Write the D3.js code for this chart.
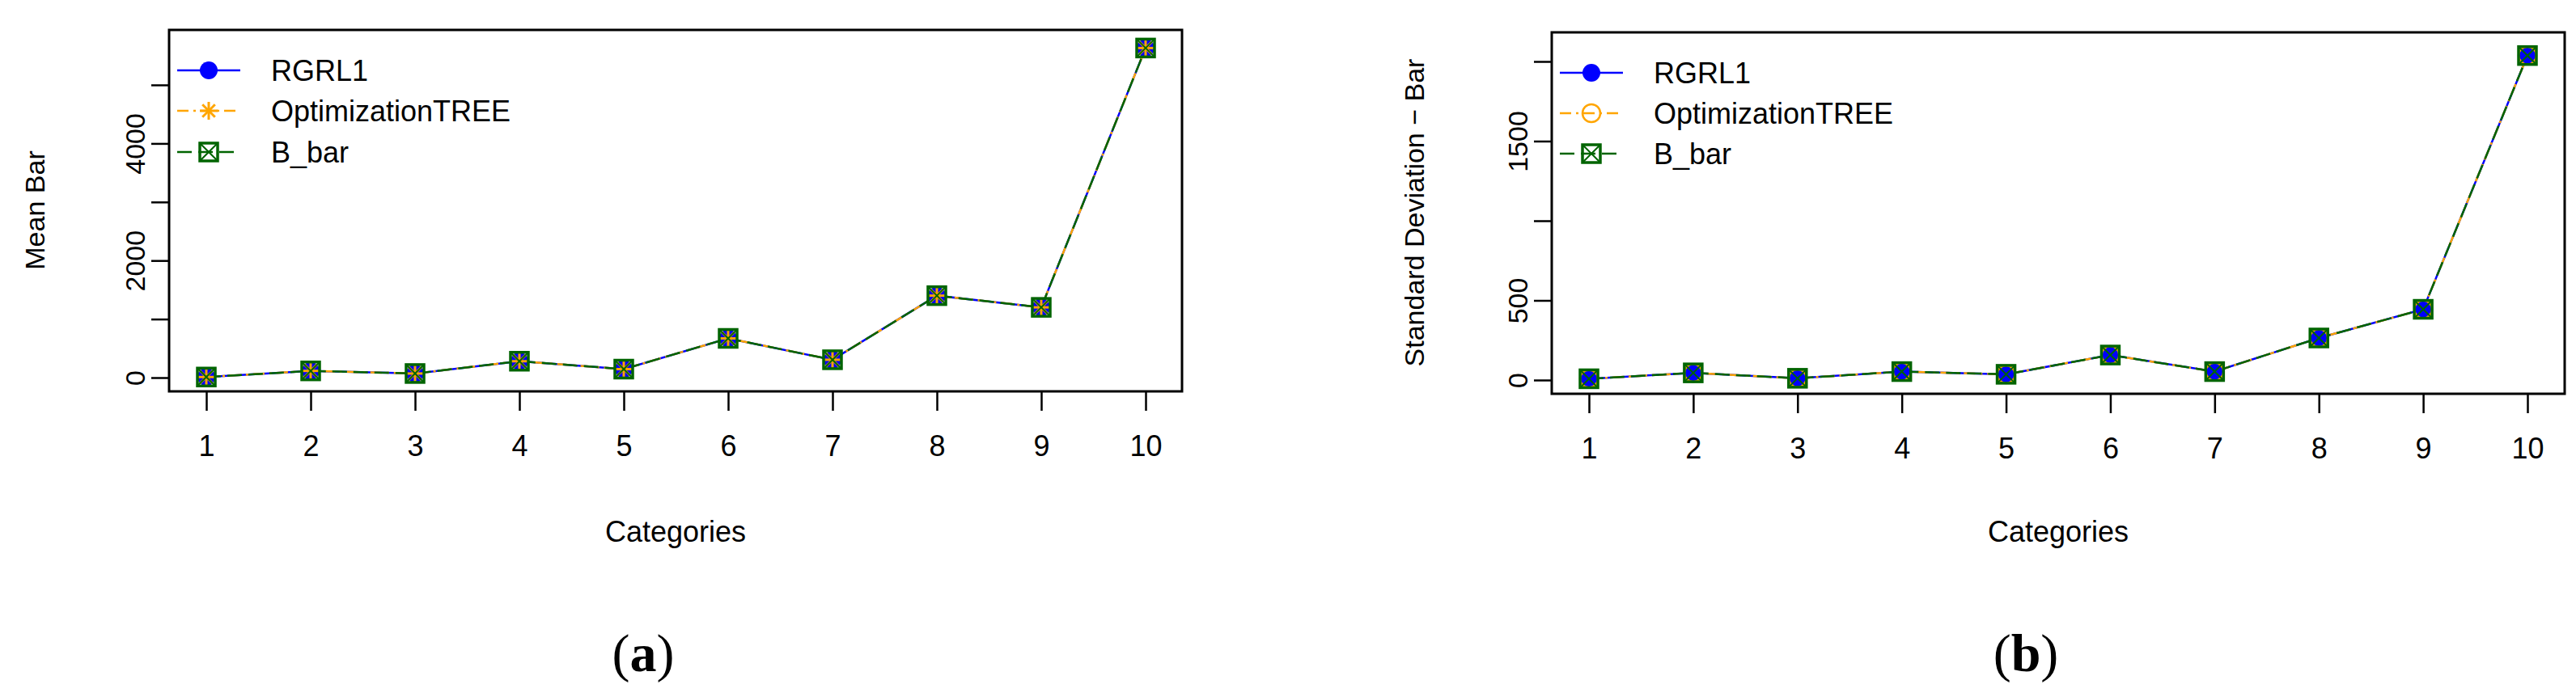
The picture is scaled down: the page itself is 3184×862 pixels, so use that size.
<!DOCTYPE html>
<html>
<head>
<meta charset="utf-8">
<script src="https://cdn.jsdelivr.net/npm/d3@7"></script>
<style>
body { margin: 0; background: #fff; }
text { font-family: "Liberation Sans", Arial, sans-serif; }
text.tag { font-family: "Liberation Serif", "DejaVu Serif", serif; }
</style>
</head>
<body>
<svg id="chart" width="3184" height="862"></svg>
<script>
// data
const categories = [1, 2, 3, 4, 5, 6, 7, 8, 9, 10];
const meanBar = [10, 115, 70, 280, 145, 670, 305, 1400, 1200, 5630];
const sdBar = [8, 45, 11, 53, 36, 157, 53, 264, 444, 2037];
const seriesNames = ["RGRL1", "OptimizationTREE", "B_bar"];
const seriesColors = ["#0000ff", "#ffa500", "#006400"];
const seriesDash = [null, "14,6,3,6", "18,8"];
const meanTicks = [0, 1000, 2000, 3000, 4000, 5000];
const meanLabels = [0, 2000, 4000];
const sdTicks = [0, 500, 1000, 1500, 2000];
const sdLabels = [0, 500, 1500];

const svg = d3.select("#chart");

function drawMarker(g, kind, color, x, y) {
    let r = 11;
    if (kind === 0) {
        g.append("circle").attr("cx", x).attr("cy", y).attr("r", r).attr("fill", color);
    } else if (kind === 1) {
        g.append("circle").attr("cx", x).attr("cy", y).attr("r", r)
            .attr("fill", "none").attr("stroke", color).attr("stroke-width", 2.5);
    } else if (kind === 2) {
        // asterisk-ish star
        for (let a = 0; a < 4; a++) {
            let ang = a * Math.PI / 4;
            g.append("line").attr("x1", x - r * Math.cos(ang)).attr("y1", y - r * Math.sin(ang))
                .attr("x2", x + r * Math.cos(ang)).attr("y2", y + r * Math.sin(ang))
                .attr("stroke", color).attr("stroke-width", 3);
        }
    } else {
        // square with X (R pch 7)
        g.append("rect").attr("x", x - r).attr("y", y - r).attr("width", 2 * r).attr("height", 2 * r)
            .attr("fill", "none").attr("stroke", color).attr("stroke-width", 3.5);
        g.append("path").attr("d", `M${x - r},${y - r}L${x + r},${y + r}M${x + r},${y - r}L${x - r},${y + r}`)
            .attr("stroke", color).attr("stroke-width", 2);
    }
}

function drawPanel(opt) {
    let g = svg.append("g");
    let x = d3.scaleLinear().domain([1, 10]).range([opt.x1, opt.x10]);
    let y = d3.scaleLinear().domain([0, opt.topVal]).range([opt.y0, opt.yTop]);

    // box
    g.append("rect").attr("x", opt.box[0]).attr("y", opt.box[1])
        .attr("width", opt.box[2] - opt.box[0]).attr("height", opt.box[3] - opt.box[1])
        .attr("fill", "none").attr("stroke", "#000").attr("stroke-width", 3);

    // x axis
    let xa = g.append("g").attr("transform", `translate(0,${opt.box[3]})`)
        .call(d3.axisBottom(x).tickValues(categories).tickSize(24).tickPadding(30).tickFormat(d3.format("d")));
    xa.select(".domain").remove();
    xa.selectAll("line").attr("stroke-width", 2.5);
    xa.selectAll("text").attr("font-size", 36).attr("fill", "#000");

    // y axis, labels rotated like R's default
    let ya = g.append("g").attr("transform", `translate(${opt.box[0]},0)`)
        .call(d3.axisLeft(y).tickValues(opt.ticks).tickSize(22).tickPadding(0)
            .tickFormat(d => opt.labels.includes(d) ? d : ""));
    ya.select(".domain").remove();
    ya.selectAll("line").attr("stroke-width", 2.5);
    ya.selectAll("text").attr("font-size", 34).attr("fill", "#000")
        .attr("text-anchor", "middle")
        .attr("transform", "translate(-42,0) rotate(-90)")
        .attr("x", 0).attr("y", 0).attr("dy", "0.35em");

    // lines and markers
    let line = d3.line().x((d, i) => x(categories[i])).y(d => y(d));
    seriesNames.forEach((name, s) => {
        g.append("path").datum(opt.values).attr("d", line).attr("fill", "none")
            .attr("stroke", seriesColors[s]).attr("stroke-width", 2.5)
            .attr("stroke-dasharray", seriesDash[s]);
    });
    seriesNames.forEach((name, s) => {
        opt.values.forEach((v, i) => drawMarker(g, opt.kinds[s], seriesColors[s], x(categories[i]), y(v)));
    });

    // legend
    seriesNames.forEach((name, s) => {
        let ly = opt.legY[s];
        g.append("line").attr("x1", opt.box[0] + 10).attr("x2", opt.box[0] + 88)
            .attr("y1", ly).attr("y2", ly).attr("stroke", seriesColors[s]).attr("stroke-width", 2.5)
            .attr("stroke-dasharray", seriesDash[s]);
        drawMarker(g, opt.kinds[s], seriesColors[s], opt.box[0] + 49, ly);
        g.append("text").attr("x", opt.box[0] + 126).attr("y", ly).attr("dy", "0.36em")
            .attr("font-size", 36).text(name);
    });

    // axis titles
    g.append("text").attr("x", (opt.box[0] + opt.box[2]) / 2).attr("y", 670)
        .attr("text-anchor", "middle").attr("font-size", 36).text("Categories");
    g.append("text").attr("transform", `translate(${opt.yTitleX},${opt.yTitleY}) rotate(-90)`)
        .attr("text-anchor", "middle").attr("font-size", 34).text(opt.yTitle);
    g.append("text").attr("class", "tag").attr("x", (opt.box[0] + opt.box[2]) / 2 - 40).attr("y", 830)
        .attr("text-anchor", "middle").attr("font-size", 66)
        .html(`(<tspan font-weight="bold">${opt.tag}</tspan>)`);
}

drawPanel({
    box: [209, 37, 1461, 484], x1: 255, x10: 1416, y0: 467, yTop: 105, topVal: 5000,
    values: meanBar, ticks: meanTicks, labels: meanLabels, kinds: [0, 2, 3],
    legY: [87, 137, 188], yTitle: "Mean Bar", yTitleX: 55, yTitleY: 260, tag: "a"
});
drawPanel({
    box: [1918, 40, 3170, 487], x1: 1964, x10: 3124, y0: 470, yTop: 76, topVal: 2000,
    values: sdBar, ticks: sdTicks, labels: sdLabels, kinds: [0, 1, 3],
    legY: [90, 140, 190], yTitle: "Standard Deviation \u2212 Bar", yTitleX: 1760, yTitleY: 263, tag: "b"
});
</script>
</body>
</html>
